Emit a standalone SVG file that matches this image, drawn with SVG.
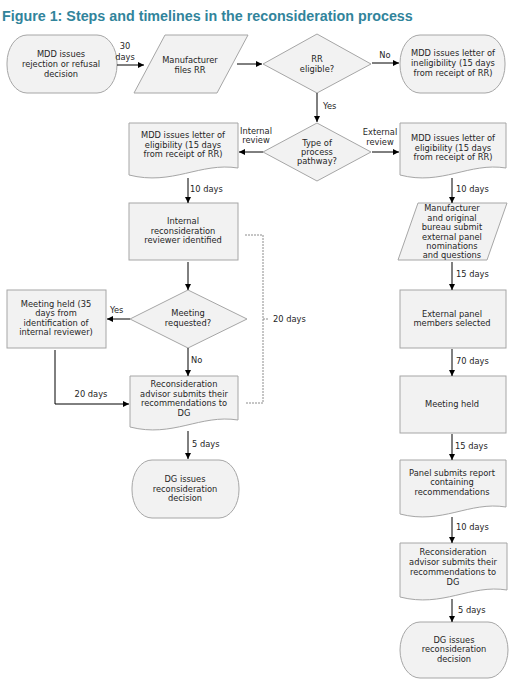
<svg xmlns="http://www.w3.org/2000/svg" width="512" height="693" viewBox="0 0 512 693">
<defs>
<marker id="ah" viewBox="0 0 6 6" refX="6" refY="3" markerWidth="6" markerHeight="6" markerUnits="userSpaceOnUse" orient="auto"><path d="M0,0 L6,3 L0,6 z" fill="#000"/></marker>
<style>
.s{fill:#f2f2f2;stroke:#a6a6a6;stroke-width:1}
.t{font-family:"DejaVu Sans",Verdana,sans-serif;font-size:8.3px;fill:#262626;text-anchor:middle}
.l{font-family:"DejaVu Sans",Verdana,sans-serif;font-size:8.3px;fill:#262626}
.c{fill:none;stroke:#000;stroke-width:1;marker-end:url(#ah)}
.d{fill:none;stroke:#8c8c8c;stroke-width:1;stroke-dasharray:2,1}
</style>
</defs>
<rect width="512" height="693" fill="#fff"/>
<text x="2" y="21" font-family="Liberation Sans,Arial,sans-serif" font-size="14.3" font-weight="bold" fill="#31849b">Figure 1: Steps and timelines in the reconsideration process</text>

<g id="n1"><rect class="s" x="7" y="35" width="110" height="58" rx="20" ry="28"/>
<text class="t"><tspan x="61" y="57">MDD issues</tspan><tspan x="61" y="66.8">rejection or refusal</tspan><tspan x="61" y="76.5">decision</tspan></text></g>

<g id="n2"><polygon class="s" points="165,35 248,35 217,93 134,93"/>
<text class="t"><tspan x="190" y="63">Manufacturer</tspan><tspan x="190" y="73">files RR</tspan></text></g>

<g id="n3"><polygon class="s" points="263,64 317,34 371,64 317,93"/>
<text class="t"><tspan x="317" y="62">RR</tspan><tspan x="317" y="72">eligible?</tspan></text></g>

<g id="n4"><rect class="s" x="400" y="35" width="105" height="58" rx="20" ry="28"/>
<text class="t"><tspan x="453" y="56">MDD issues letter of</tspan><tspan x="453" y="66">ineligibility (15 days</tspan><tspan x="453" y="75.5">from receipt of RR)</tspan></text></g>

<g id="n5"><polygon class="s" points="263,152 317,123 371,152 317,181"/>
<text class="t"><tspan x="317" y="146">Type of</tspan><tspan x="317" y="155">process</tspan><tspan x="317" y="164">pathway?</tspan></text></g>

<g id="n6"><path class="s" d="M129,123 H238 V168 C200,162 172.6,186 129,175 Z"/>
<text class="t"><tspan x="183" y="138">MDD issues letter of</tspan><tspan x="183" y="148">eligibility (15 days</tspan><tspan x="183" y="157">from receipt of RR)</tspan></text></g>

<g id="n7"><path class="s" d="M400,123 H506 V168 C469,162 442,186 400,175 Z"/>
<text class="t"><tspan x="453" y="141">MDD issues letter of</tspan><tspan x="453" y="151">eligibility (15 days</tspan><tspan x="453" y="160">from receipt of RR)</tspan></text></g>

<g id="n8"><rect class="s" x="129" y="203" width="109" height="57"/>
<text class="t"><tspan x="183" y="224">Internal</tspan><tspan x="183" y="234">reconsideration</tspan><tspan x="183" y="243">reviewer identified</tspan></text></g>

<g id="n9"><polygon class="s" points="418,203 507,203 487,260 398,260"/>
<text class="t"><tspan x="452" y="211">Manufacturer</tspan><tspan x="452" y="220.5">and original</tspan><tspan x="452" y="230">bureau submit</tspan><tspan x="452" y="239.5">external panel</tspan><tspan x="452" y="249">nominations</tspan><tspan x="452" y="258">and questions</tspan></text></g>

<g id="n10"><polygon class="s" points="130,319 188,290 247,319 188,348"/>
<text class="t"><tspan x="188" y="316">Meeting</tspan><tspan x="188" y="326">requested?</tspan></text></g>

<g id="n11"><rect class="s" x="7" y="290" width="99" height="58"/>
<text class="t"><tspan x="56" y="307">Meeting held (35</tspan><tspan x="56" y="316">days from</tspan><tspan x="56" y="325.5">identification of</tspan><tspan x="56" y="335">internal reviewer)</tspan></text></g>

<g id="n12"><rect class="s" x="400" y="290" width="106" height="58"/>
<text class="t"><tspan x="452" y="317">External panel</tspan><tspan x="452" y="326">members selected</tspan></text></g>

<g id="n13"><path class="s" d="M130,376 H238 V420 C200,414 173,438 130,427 Z"/>
<text class="t"><tspan x="184" y="387">Reconsideration</tspan><tspan x="184" y="397">advisor submits their</tspan><tspan x="184" y="406">recommendations to</tspan><tspan x="184" y="416">DG</tspan></text></g>

<g id="n14"><rect class="s" x="400" y="376" width="106" height="57"/>
<text class="t"><tspan x="452" y="407">Meeting held</tspan></text></g>

<g id="n15"><rect class="s" x="132" y="460" width="107" height="58" rx="20" ry="28"/>
<text class="t"><tspan x="185" y="482">DG issues</tspan><tspan x="185" y="492">reconsideration</tspan><tspan x="185" y="501">decision</tspan></text></g>

<g id="n16"><path class="s" d="M400,460 H506 V507 C469,501 442,525 400,514 Z"/>
<text class="t"><tspan x="452" y="476">Panel submits report</tspan><tspan x="452" y="485">containing</tspan><tspan x="452" y="495">recommendations</tspan></text></g>

<g id="n17"><path class="s" d="M400,543 H507 V590 C470,584 443,608 400,597 Z"/>
<text class="t"><tspan x="453" y="555">Reconsideration</tspan><tspan x="453" y="565">advisor submits their</tspan><tspan x="453" y="575">recommendations to</tspan><tspan x="453" y="585">DG</tspan></text></g>

<g id="n18"><rect class="s" x="400" y="622" width="108" height="56" rx="20" ry="28"/>
<text class="t"><tspan x="454" y="643">DG issues</tspan><tspan x="454" y="652">reconsideration</tspan><tspan x="454" y="662">decision</tspan></text></g>

<g id="connectors">
<path class="c" d="M117,65 H144"/>
<path class="c" d="M237,64 H262"/>
<path class="c" d="M372,63 H399"/>
<path class="c" d="M317,93 V122"/>
<path class="c" d="M263,152 H239"/>
<path class="c" d="M372,152 H399"/>
<path class="c" d="M188,178 V203"/>
<path class="c" d="M452,178 V203"/>
<path class="c" d="M188,262 V290"/>
<path class="c" d="M130,319 H107"/>
<path class="c" d="M188,348 V376"/>
<path class="c" d="M55,350 V404 H129"/>
<path class="c" d="M452,262 V290"/>
<path class="c" d="M452,349 V376"/>
<path class="c" d="M188,431 V459"/>
<path class="c" d="M452,434 V460"/>
<path class="c" d="M452,517 V543"/>
<path class="c" d="M452,599 V622"/>
<path class="d" d="M245,235 H263 V403 H245 M263,319 H268"/>
<text class="l" text-anchor="middle"><tspan x="125" y="49">30</tspan><tspan x="125" y="60">days</tspan></text>
<text class="l" x="385" y="58" text-anchor="middle">No</text>
<text class="l" x="323" y="109">Yes</text>
<text class="l" text-anchor="middle"><tspan x="256" y="134">Internal</tspan><tspan x="256" y="143">review</tspan></text>
<text class="l" text-anchor="middle"><tspan x="380" y="135">External</tspan><tspan x="380" y="145">review</tspan></text>
<text class="l" x="190" y="192">10 days</text>
<text class="l" x="456" y="192">10 days</text>
<text class="l" x="110" y="313">Yes</text>
<text class="l" x="191" y="363">No</text>
<text class="l" x="91" y="397" text-anchor="middle">20 days</text>
<text class="l" x="273" y="322">20 days</text>
<text class="l" x="456" y="277">15 days</text>
<text class="l" x="456" y="364">70 days</text>
<text class="l" x="192" y="447">5 days</text>
<text class="l" x="455" y="449">15 days</text>
<text class="l" x="456" y="530">10 days</text>
<text class="l" x="458" y="613">5 days</text>
</g>
</svg>
